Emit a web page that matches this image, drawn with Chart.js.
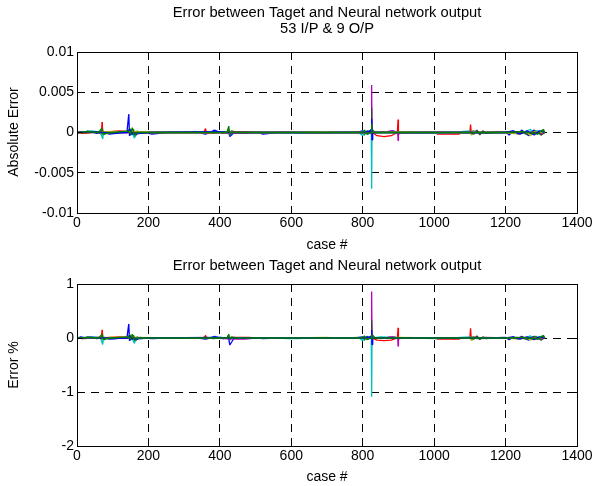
<!DOCTYPE html>
<html><head><meta charset="utf-8">
<script src="https://cdn.jsdelivr.net/npm/chart.js@4/dist/chart.umd.min.js"></script>
<style>
html,body{margin:0;padding:0;background:#fff;}
#wrap{position:relative;width:595px;height:486px;overflow:hidden;}
canvas{position:absolute;left:0;top:0;}
</style></head><body>
<div id="wrap">
<canvas id="c1" width="595" height="486"></canvas>
<canvas id="c2" width="595" height="486"></canvas>
</div>
<script>
// ---- tick labels ----
const xTicks = [0, 200, 400, 600, 800, 1000, 1200, 1400];
const yTicksTop = [-0.01, -0.005, 0, 0.005, 0.01];
const yLabelsTop = ['-0.01', '-0.005', '0', '0.005', '0.01'];
const yTicksBottom = [-2, -1, 0, 1];
const yLabelsBottom = ['-2', '-1', '0', '1'];

// ---- series colours (output 1..9) ----
const seriesColors = ['#0000ff', '#008000', '#ff0000', '#00bfbf', '#bf00bf', '#bfbf00', '#404040', '#0000ff', '#008000'];

// ---- absolute error, [case #, error] ----
const absOut1 = [[1,-0.0001],[10,0.0001],[25,0],[40,0.0001],[55,-0.0001],[68,0],[75,0.0001],[90,-0.0002],[110,-0.0001],[130,0.0001],[140,0.0001],[145,0.0023],[147,-0.0004],[158,0.0002],[165,-0.0003],[175,0.0001],[190,0],[210,-0.0002],[250,0],[300,0],[340,0],[360,-0.0002],[372,0],[385,0.0003],[395,0.0001],[410,-0.0001],[424,0.0001],[428,-0.0005],[440,0],[470,0],[510,0],[520,-0.0002],[560,0],[620,0],[700,0],[780,0],[800,0.0002],[815,-0.0002],[822,0.0003],[825,0.0004],[830,0],[845,0],[870,0.0001],[885,0.0002],[900,0],[950,0],[1000,0],[1050,0],[1100,0],[1150,0],[1200,0.0001],[1210,-0.0003],[1222,0.0002],[1235,-0.0002],[1245,0.0003],[1255,-0.0001],[1265,-0.0004],[1272,0.0001],[1280,0.0003],[1290,-0.0002],[1300,0.0002],[1310,0]];
const absOut2 = [[1,0.0001],[15,-0.0001],[30,0.0002],[45,0],[60,0.0001],[68,-0.0002],[71,0.0007],[74,-0.0003],[85,0],[120,0.0001],[140,0],[148,0.0005],[152,-0.0003],[158,0.0004],[163,-0.0005],[168,0.0002],[175,-0.0001],[200,0],[260,0],[330,0],[365,0.0001],[380,-0.0001],[400,0],[420,0],[425,0.0008],[428,-0.0004],[432,0.0002],[450,0],[550,0],[650,0],[750,0],[795,0.0001],[805,-0.0003],[812,0.0002],[820,-0.0001],[828,0.0003],[835,0],[900,0],[1000,0],[1100,0],[1110,0.0002],[1120,-0.0001],[1200,0],[1230,0.0001],[1260,-0.0002],[1285,0.0002],[1300,-0.0003],[1306,0.0004],[1310,0]];
const absOut3 = [[1,0],[20,-0.0001],[40,0],[60,0.0001],[69,0],[70,0.0013],[71,-0.0001],[90,0.0001],[120,0.0002],[140,0.0001],[150,0.0002],[165,0],[200,0],[300,0],[355,0],[360,0.0005],[362,-0.0001],[380,0],[450,0.0001],[480,0.0001],[500,0],[600,0],[700,0],[800,0],[820,0],[830,-0.0001],[840,-0.0004],[860,-0.0005],[880,-0.0004],[897,0],[899,0.0016],[900,-0.0002],[910,0],[1000,0],[1010,-0.0002],[1070,-0.0002],[1075,0],[1100,0],[1102,0.001],[1104,-0.0002],[1110,0],[1200,0],[1250,0.0001],[1280,-0.0001],[1310,0]];
const absOut4 = [[1,0.0001],[20,0],[40,0.0002],[55,0.0001],[66,0],[72,-0.0008],[74,0.0001],[100,0],[140,0.0001],[152,0.0002],[161,-0.0007],[163,0.0001],[180,0],[220,0],[350,0],[390,0.0001],[430,0],[500,0],[560,0],[590,-0.0001],[620,-0.0001],[640,0],[700,0],[790,0],[800,-0.0004],[806,0.0001],[824,0],[825,-0.007],[826,0],[850,0.0001],[880,0],[950,0],[1000,-0.0001],[1050,0],[1100,0.0002],[1105,-0.0003],[1110,0],[1200,0],[1250,0],[1270,0.0004],[1275,-0.0002],[1290,0.0002],[1310,0]];
const absOut5 = [[1,0],[30,0.0001],[60,0],[150,0],[200,0],[380,0],[440,-0.0001],[470,-0.0001],[500,0],[700,0],[810,0],[824,0],[825,0.0059],[826,0],[870,0.0001],[880,0.0002],[898,0],[899,-0.001],[900,0],[1000,0],[1100,0],[1120,0.0002],[1125,-0.0001],[1140,0.0001],[1200,0],[1310,0]];
const absOut6 = [[1,0],[100,0.0001],[150,0.0001],[300,0],[600,0],[700,0.0001],[720,0],[820,0],[900,0.0001],[1000,0],[1100,0],[1105,-0.0003],[1110,0.0001],[1200,0],[1240,-0.0002],[1260,0.0001],[1270,-0.0004],[1280,0.0001],[1310,0]];
const absOut7 = [[1,0],[200,0],[500,0],[800,0],[824,0],[825,0.0031],[826,0],[900,0],[1100,0],[1112,-0.0002],[1120,0.0003],[1128,-0.0003],[1136,0.0002],[1145,-0.0001],[1160,0],[1290,0],[1300,-0.0003],[1310,0]];
const absOut8 = [[1,0],[50,0.0001],[100,-0.0001],[140,0],[148,0.0004],[155,-0.0002],[200,0],[400,0.0001],[420,0],[800,0],[818,0.0002],[824,0],[825,0.0017],[826,-0.0009],[828,0],[1000,0],[1200,0],[1220,0.0002],[1240,-0.0002],[1260,0.0002],[1280,-0.0003],[1295,0.0002],[1310,0]];
const absOut9 = [[1,0],[30,0.0001],[60,0],[69,0.0005],[72,-0.0002],[100,0],[143,0.0002],[150,-0.0001],[155,0.0006],[160,-0.0003],[170,0],[300,0],[420,0],[424,0.0004],[427,0],[800,0],[805,0.0003],[812,-0.0002],[824,0],[825,0.0011],[826,0],[1000,0],[1200,0],[1250,0.0001],[1290,-0.0002],[1303,0.0003],[1310,0]];

// ---- percentage error, [case #, error %] ----
const pctOut1 = [[1,-0.01],[10,0.02],[25,0],[40,0.02],[55,-0.01],[68,0],[75,0.01],[90,-0.02],[110,-0.01],[130,0.01],[140,0.01],[145,0.26],[147,-0.05],[158,0.03],[165,-0.04],[175,0.01],[190,0],[210,-0.01],[250,0],[300,0],[340,0],[360,-0.02],[372,0],[385,0.03],[395,0.01],[410,-0.01],[424,0.01],[428,-0.13],[440,0],[470,0],[510,0],[520,-0.01],[560,0],[620,0],[700,0],[780,0],[800,0.02],[815,-0.02],[822,0.03],[825,0.04],[830,0],[845,0],[870,0.01],[885,0.02],[900,0],[950,0],[1000,0],[1100,0],[1150,0],[1200,0.01],[1210,-0.03],[1222,0.02],[1235,-0.02],[1245,0.03],[1255,-0.01],[1265,-0.04],[1272,0.01],[1280,0.03],[1290,-0.02],[1300,0.02],[1310,0]];
const pctOut2 = [[1,0.01],[15,-0.01],[30,0.02],[45,0],[60,0.01],[68,-0.02],[71,0.1],[74,-0.04],[85,0],[120,0.01],[140,0],[148,0.06],[152,-0.03],[158,0.05],[163,-0.06],[168,0.02],[175,-0.01],[200,0],[260,0],[330,0],[365,0.01],[380,-0.01],[400,0],[420,0],[425,0.07],[428,-0.04],[432,0.02],[450,0],[550,0],[650,0],[750,0],[795,0.01],[805,-0.04],[812,0.03],[820,-0.01],[828,0.05],[835,0],[900,0],[1000,0],[1100,0],[1110,0.02],[1120,-0.01],[1200,0],[1230,0.01],[1260,-0.02],[1285,0.03],[1300,-0.04],[1306,0.05],[1310,0]];
const pctOut3 = [[1,0],[20,-0.01],[40,0],[60,0.01],[69,0],[70,0.15],[71,-0.01],[90,0.01],[120,0.02],[140,0.01],[150,0.02],[165,0],[200,0],[300,0],[355,0],[360,0.05],[362,-0.01],[380,0],[450,0.01],[480,0.01],[500,0],[600,0],[700,0],[800,0],[820,0],[830,-0.01],[840,-0.04],[860,-0.05],[880,-0.04],[897,0],[899,0.19],[900,-0.02],[910,0],[1000,0],[1010,-0.02],[1070,-0.02],[1075,0],[1100,0],[1102,0.18],[1104,-0.03],[1110,0],[1200,0],[1250,0.01],[1280,-0.01],[1310,0]];
const pctOut4 = [[1,0.01],[20,0],[40,0.02],[55,0.01],[66,0],[72,-0.12],[74,0.01],[100,0],[140,0.01],[152,0.02],[161,-0.1],[163,0.01],[180,0],[220,0],[350,0],[390,0.01],[430,0],[500,0],[560,0],[590,-0.01],[620,-0.01],[640,0],[700,0],[790,0],[800,-0.05],[806,0.01],[824,0],[825,-1.09],[826,0],[850,0.02],[880,0.01],[950,0],[1000,-0.01],[1050,0],[1100,0.02],[1105,-0.04],[1110,0],[1200,0],[1250,0],[1270,0.04],[1275,-0.02],[1290,0.02],[1310,0]];
const pctOut5 = [[1,0],[30,0.01],[60,0],[150,0],[200,0],[380,0],[440,-0.02],[470,-0.02],[500,0],[700,0],[810,0],[824,0],[825,0.86],[826,0],[870,0.01],[880,0.02],[898,0],[899,-0.15],[900,0],[1000,0],[1100,0],[1120,0.02],[1125,-0.01],[1140,0.01],[1200,0],[1310,0]];
const pctOut6 = [[1,0],[100,0.01],[150,0.01],[300,0],[600,0],[700,0.01],[720,0],[820,0],[900,0.01],[1000,0],[1100,0],[1105,-0.05],[1110,0.01],[1200,0],[1240,-0.02],[1260,0.01],[1270,-0.04],[1280,0.01],[1310,0]];
const pctOut7 = [[1,0],[200,0],[500,0],[800,0],[824,0],[825,0.33],[826,0],[900,0],[1100,0],[1112,-0.02],[1120,0.04],[1128,-0.03],[1136,0.02],[1145,-0.01],[1160,0],[1290,0],[1300,-0.03],[1310,0]];
const pctOut8 = [[1,0],[50,0.01],[100,-0.01],[140,0],[148,0.04],[155,-0.02],[200,0],[400,0.01],[420,0],[800,0],[818,0.02],[824,0],[825,0.15],[826,-0.12],[828,0],[1000,0],[1200,0],[1220,0.02],[1240,-0.02],[1260,0.02],[1280,-0.03],[1295,0.02],[1310,0]];
const pctOut9 = [[1,0],[30,0.01],[60,0],[69,0.06],[72,-0.02],[100,0],[143,0.02],[150,-0.01],[155,0.07],[160,-0.04],[170,0],[300,0],[420,0],[424,0.05],[427,0],[800,0],[805,0.04],[812,-0.03],[824,0],[825,0.06],[826,0],[1000,0],[1200,0],[1250,0.01],[1290,-0.02],[1303,0.04],[1310,0]];

const absSeries = [absOut1, absOut2, absOut3, absOut4, absOut5, absOut6, absOut7, absOut8, absOut9];
const pctSeries = [pctOut1, pctOut2, pctOut3, pctOut4, pctOut5, pctOut6, pctOut7, pctOut8, pctOut9];

const FONT = '"Liberation Sans", Arial, Helvetica, sans-serif';
Chart.defaults.font.family = FONT;
Chart.defaults.font.size = 14;
Chart.defaults.color = '#000';

function align(p) { return Math.round(p - 0.5) + 0.5; }

const framePlugin = {
  id: 'frame',
  afterDraw(chart, args, opts) {
    const ctx = chart.ctx, a = chart.chartArea;
    const l = align(a.left), r = align(a.right), t = align(a.top), b = align(a.bottom);
    ctx.save();
    ctx.strokeStyle = '#000';
    ctx.lineWidth = 1;
    ctx.setLineDash([]);
    ctx.beginPath();
    const xs = chart.scales.x, ys = chart.scales.y;
    xs.ticks.forEach(tk => {
      const px = align(xs.getPixelForValue(tk.value));
      ctx.moveTo(px, b); ctx.lineTo(px, b - 5);
      ctx.moveTo(px, t); ctx.lineTo(px, t + 5);
    });
    ys.ticks.forEach(tk => {
      const py = align(ys.getPixelForValue(tk.value));
      ctx.moveTo(l, py); ctx.lineTo(l + 5, py);
      ctx.moveTo(r, py); ctx.lineTo(r - 5, py);
    });
    ctx.stroke();
    ctx.strokeRect(l, t, r - l, b - t);
    ctx.fillStyle = '#000';
    ctx.textAlign = 'center';
    ctx.textBaseline = 'middle';
    (opts.texts || []).forEach(tx => {
      ctx.save();
      ctx.font = (tx.size || 14) + 'px ' + FONT;
      ctx.translate(tx.x, tx.y);
      if (tx.rot) ctx.rotate(tx.rot);
      ctx.fillText(tx.text, 0, 0);
      ctx.restore();
    });
    ctx.restore();
  }
};

function makeChart(id, series, yTicks, yLabels, padTop, padBottom, xAxisH, texts) {
  const datasets = series.map((s, i) => ({
    data: s.map(p => ({x: p[0], y: p[1]})),
    borderColor: seriesColors[i],
    borderWidth: 1.3,
    borderJoinStyle: 'bevel',
    pointRadius: 0,
    fill: false,
    tension: 0,
    order: series.length - i
  }));
  return new Chart(document.getElementById(id), {
    type: 'line',
    data: {datasets},
    plugins: [framePlugin],
    options: {
      responsive: false,
      animation: false,
      events: [],
      layout: {padding: {top: padTop, bottom: padBottom, left: 0, right: 18}},
      plugins: {legend: {display: false}, tooltip: {enabled: false}, frame: {texts}},
      scales: {
        x: {
          type: 'linear', min: xTicks[0], max: xTicks[xTicks.length - 1],
          afterBuildTicks: sc => { sc.ticks = xTicks.map(v => ({value: v})); },
          afterFit: sc => { sc.height = xAxisH; },
          ticks: {autoSkip: false, maxRotation: 0, padding: 2, callback: v => String(v)},
          grid: {color: '#000', lineWidth: 1, drawTicks: false},
          border: {display: false, dash: [8, 6]}
        },
        y: {
          type: 'linear', min: yTicks[0], max: yTicks[yTicks.length - 1],
          afterBuildTicks: sc => { sc.ticks = yTicks.map(v => ({value: v})); },
          afterFit: sc => { sc.width = 77; },
          ticks: {autoSkip: false, padding: 3, callback: (v) => yLabels[yTicks.indexOf(v)]},
          grid: {color: '#000', lineWidth: 1, drawTicks: false},
          border: {display: false, dash: [8, 6]}
        }
      }
    }
  });
}

makeChart('c1', absSeries, yTicksTop, yLabelsTop, 52, 243, 30, [
  {text: 'Error between Taget and Neural network output', x: 327, y: 13, size: 14.7},
  {text: '53 I/P & 9 O/P', x: 327, y: 29, size: 14.7},
  {text: 'case #', x: 327, y: 245},
  {text: 'Absolute Error', x: 14, y: 132, rot: -Math.PI / 2}
]);
makeChart('c2', pctSeries, yTicksBottom, yLabelsBottom, 284, 0, 40, [
  {text: 'Error between Taget and Neural network output', x: 327, y: 266, size: 14.7},
  {text: 'case #', x: 327, y: 477},
  {text: 'Error %', x: 14, y: 365, rot: -Math.PI / 2}
]);
</script>
</body></html>
